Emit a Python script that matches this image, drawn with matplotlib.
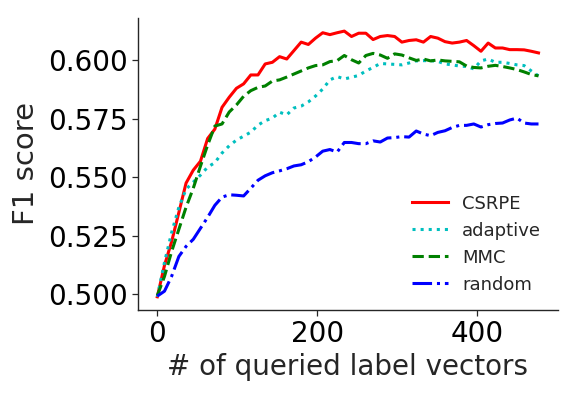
import matplotlib
matplotlib.use("Agg")
import matplotlib.pyplot as plt

queries = list(range(0, 478, 9))

csrpe = [0.499, 0.5124, 0.5226, 0.535, 0.5475, 0.553, 0.5568, 0.5665, 0.5705, 0.5798,
         0.5841, 0.5879, 0.5898, 0.5936, 0.5936, 0.5983, 0.599, 0.6014, 0.6004, 0.604,
         0.6076, 0.6066, 0.6093, 0.6116, 0.6108, 0.6116, 0.6123, 0.61, 0.6114, 0.6114,
         0.6087, 0.61, 0.6104, 0.61, 0.6076, 0.6083, 0.6086, 0.6076, 0.61, 0.6093,
         0.6078, 0.6072, 0.6076, 0.6083, 0.6061, 0.6037, 0.6072, 0.6051, 0.6051, 0.6044,
         0.6044, 0.6043, 0.6037, 0.603]

adaptive = [0.499, 0.5137, 0.5265, 0.5372, 0.5449, 0.5479, 0.5509, 0.5543, 0.5562, 0.5603,
            0.5634, 0.5658, 0.5675, 0.5692, 0.5722, 0.5741, 0.5752, 0.5777, 0.5766, 0.5795,
            0.5803, 0.5821, 0.5846, 0.5876, 0.5915, 0.5929, 0.5919, 0.5926, 0.5934, 0.5953,
            0.5968, 0.5985, 0.5983, 0.5981, 0.5979, 0.5987, 0.5996, 0.5997, 0.5997, 0.5994,
            0.5983, 0.5979, 0.5974, 0.5972, 0.5962, 0.5996, 0.6004, 0.599, 0.599, 0.5985,
            0.5979, 0.5976, 0.5953, 0.5932]

mmc = [0.4995, 0.5077, 0.5184, 0.5278, 0.5372, 0.5453, 0.5547, 0.5637, 0.5718, 0.5727,
       0.5778, 0.5808, 0.5845, 0.5869, 0.5883, 0.5889, 0.591, 0.5915, 0.5927, 0.594,
       0.5953, 0.5966, 0.5976, 0.5979, 0.5993, 0.5997, 0.6019, 0.6001, 0.5987, 0.6019,
       0.6028, 0.6021, 0.6007, 0.6026, 0.6021, 0.6009, 0.5998, 0.6004, 0.5996, 0.6,
       0.5996, 0.5994, 0.5992, 0.5974, 0.5968, 0.5966, 0.5973, 0.5977, 0.5972, 0.5966,
       0.5959, 0.5949, 0.5938, 0.5932]

random_ = [0.4993, 0.5014, 0.5078, 0.5162, 0.5205, 0.5235, 0.5282, 0.5329, 0.538, 0.5415,
           0.5425, 0.5423, 0.542, 0.5453, 0.5487, 0.5506, 0.5519, 0.5527, 0.5536, 0.5548,
           0.5553, 0.5566, 0.5586, 0.5611, 0.5618, 0.5607, 0.5648, 0.5648, 0.5643, 0.5643,
           0.5655, 0.565, 0.5667, 0.5669, 0.5673, 0.5671, 0.5697, 0.5684, 0.5677, 0.5691,
           0.5698, 0.5712, 0.5721, 0.5721, 0.5727, 0.5714, 0.5724, 0.5729, 0.5731, 0.5744,
           0.5752, 0.5731, 0.5727, 0.5727]

labels = ["CSRPE", "adaptive", "MMC", "random"]
xticks = [0, 200, 400]

dark = "#262626"
fig = plt.figure(figsize=(5.76, 3.96), dpi=100)
ax = fig.add_axes([0.240, 0.217, 0.728, 0.738])

lw = 2.2
ax.plot(queries, csrpe, color="red", linestyle="-", lw=lw, label=labels[0])
ax.plot(queries, adaptive, color="c", linestyle=":", lw=lw, label=labels[1])
ax.plot(queries, mmc, color="g", linestyle="--", lw=lw, label=labels[2])
ax.plot(queries, random_, color="b", linestyle="-.", lw=lw, label=labels[3])

ax.set_xticks(xticks)
ax.set_yticks([0.500, 0.525, 0.550, 0.575, 0.600])
ax.tick_params(axis="both", labelsize=20, colors=dark, labelcolor="black", length=4, width=0.9)
ax.set_xlabel("# of queried label vectors", fontsize=20, color=dark, labelpad=3)
ax.set_ylabel("F1 score", fontsize=21, color=dark, labelpad=6)
for s in ["top", "right"]:
    ax.spines[s].set_visible(False)
for s in ["left", "bottom"]:
    ax.spines[s].set_color(dark)
    ax.spines[s].set_linewidth(1.0)

leg = ax.legend(loc="lower right", frameon=False, fontsize=13)
for t in leg.get_texts():
    t.set_color(dark)

fig.savefig("out.png", dpi=100)
